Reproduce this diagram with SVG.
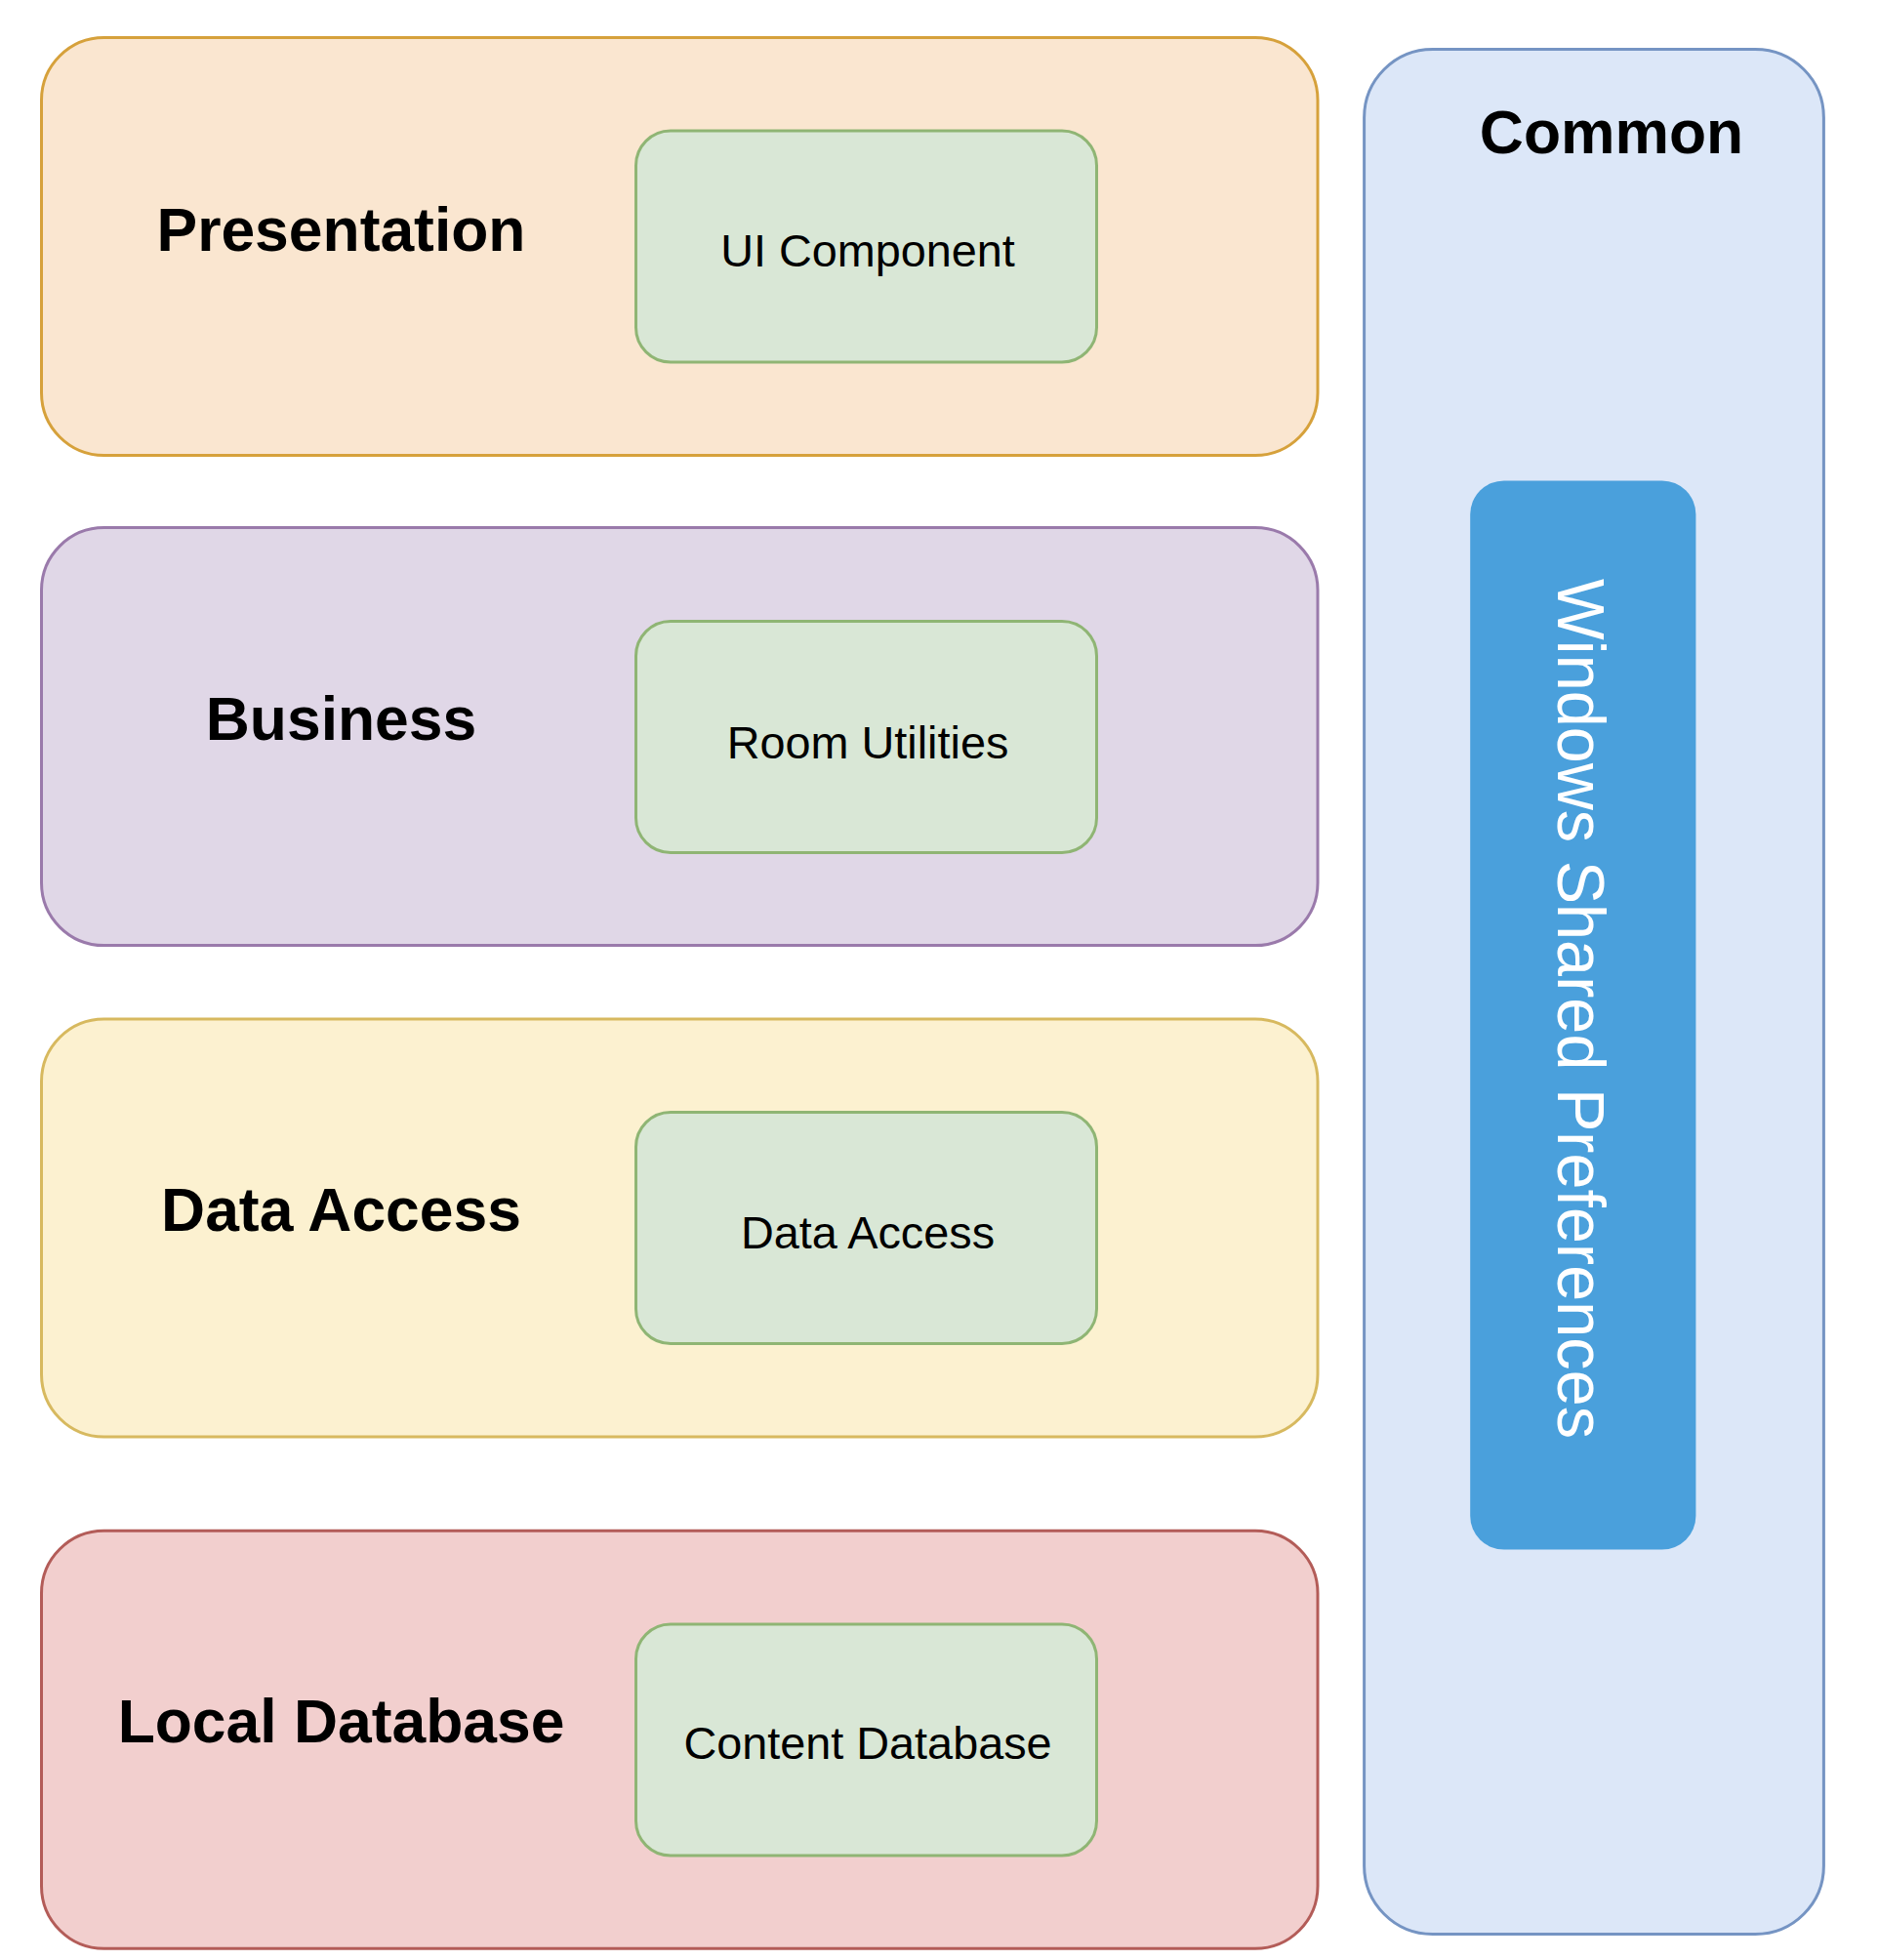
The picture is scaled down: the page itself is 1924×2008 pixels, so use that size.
<svg xmlns="http://www.w3.org/2000/svg" width="1924" height="2008" viewBox="0 0 1924 2008">
<style>
.layer{stroke-width:3}
.inner{fill:#D9E7D6;stroke:#8FB574;stroke-width:3}
.title{font-family:"Liberation Sans",Arial,Helvetica,sans-serif;font-weight:bold;font-size:62.4px;fill:#000;text-anchor:middle}
.label{font-family:"Liberation Sans",Arial,Helvetica,sans-serif;font-size:46.8px;fill:#000;text-anchor:middle}
</style>
<rect width="1924" height="2008" fill="#FFFFFF"/>
<g id="common">
<rect x="1397.6" y="50.5" width="470.8" height="1931" rx="70" ry="70" fill="#DCE7F8" stroke="#7594C3" class="layer"/>
<text class="title" x="1651" y="157">Common</text>
</g>
<g id="shared-preferences">
<rect x="1506.2" y="492.4" width="231.2" height="1095.2" rx="34.7" ry="34.7" fill="#4AA0DC"/>
<text transform="translate(1596,1033.5) rotate(90)" font-family="'Liberation Sans',Arial,Helvetica,sans-serif" font-size="69" fill="#FFFFFF" text-anchor="middle" textLength="881" lengthAdjust="spacingAndGlyphs">Windows Shared Preferences</text>
</g>
<g id="presentation">
<rect x="42.5" y="38.5" width="1307.5" height="428" rx="64" ry="64" fill="#FAE6D0" stroke="#D6A13B" class="layer"/>
<text class="title" x="349.5" y="257.3">Presentation</text>
</g>
<g id="ui-component">
<rect x="651.5" y="134" width="472" height="237" rx="35.5" ry="35.5" class="inner"/>
<text class="label" x="889" y="272.7">UI Component</text>
</g>
<g id="business">
<rect x="42.5" y="540.6" width="1307.5" height="428" rx="64" ry="64" fill="#E0D7E7" stroke="#9A7AAB" class="layer"/>
<text class="title" x="349.5" y="758.3">Business</text>
</g>
<g id="room-utilities">
<rect x="651.5" y="636.5" width="472" height="237" rx="35.5" ry="35.5" class="inner"/>
<text class="label" x="889" y="777.3">Room Utilities</text>
</g>
<g id="data-access-layer">
<rect x="42.5" y="1044" width="1307.5" height="428" rx="64" ry="64" fill="#FCF1D0" stroke="#D7B95F" class="layer"/>
<text class="title" x="349.5" y="1261">Data Access</text>
</g>
<g id="data-access">
<rect x="651.5" y="1139.5" width="472" height="237" rx="35.5" ry="35.5" class="inner"/>
<text class="label" x="889" y="1279">Data Access</text>
</g>
<g id="local-database">
<rect x="42.5" y="1568.3" width="1307.5" height="428" rx="64" ry="64" fill="#F2CFCE" stroke="#B35C58" class="layer"/>
<text class="title" x="349.5" y="1785.3">Local Database</text>
</g>
<g id="content-database">
<rect x="651.5" y="1664" width="472" height="237" rx="35.5" ry="35.5" class="inner"/>
<text class="label" x="889" y="1802.3">Content Database</text>
</g>
<g id="connectors"></g>
</svg>
